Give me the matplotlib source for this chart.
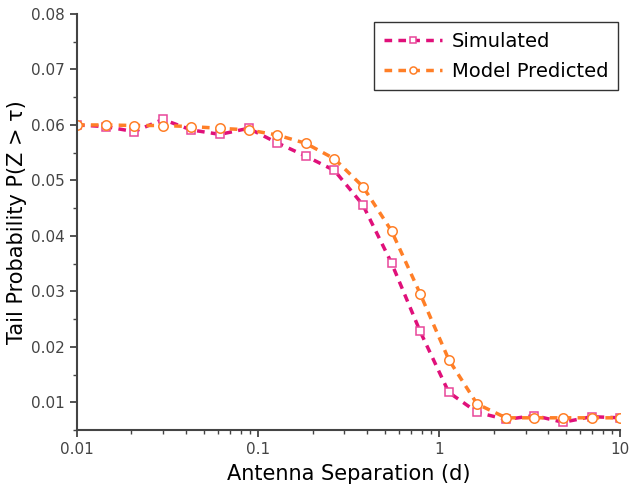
import matplotlib
matplotlib.use("Agg")
import matplotlib.pyplot as plt
from matplotlib.ticker import FixedLocator, LogLocator, MultipleLocator, NullFormatter

separation = [0.01, 0.0144, 0.0207, 0.0298, 0.0428, 0.0616, 0.0886, 0.127, 0.183, 0.264,
              0.379, 0.546, 0.785, 1.13, 1.62, 2.34, 3.36, 4.83, 6.95, 10.0]
simulated = [0.0600, 0.0597, 0.0588, 0.0610, 0.0591, 0.0583, 0.0594, 0.0568, 0.0544, 0.0518,
             0.0456, 0.0351, 0.0228, 0.0118, 0.0082, 0.0069, 0.0076, 0.0064, 0.0074, 0.0072]
predicted = [0.0600, 0.0600, 0.0599, 0.0599, 0.0597, 0.0594, 0.0591, 0.0582, 0.0567, 0.0539,
             0.0489, 0.0409, 0.0296, 0.0177, 0.0097, 0.0072, 0.0072, 0.0072, 0.0072, 0.0072]

plt.rcParams["font.family"] = ["DejaVu Sans"]

fig, ax = plt.subplots(figsize=(6.29, 4.92), dpi=100)
fig.subplots_adjust(left=0.1224, right=0.986, top=0.9715, bottom=0.126)

pink = "#e0107a"
orange = "#ff7f27"
ax.plot(separation, simulated, ls=(0, (2.2, 1.8)), lw=2.5, color=pink,
        marker="s", ms=6, mfc="white", mec="#e8479a", mew=1.1, label="Simulated")
ax.plot(separation, predicted, ls=(0, (2.2, 1.8)), lw=2.5, color=orange,
        marker="o", ms=6.8, mfc="white", mec=orange, mew=1.1, label="Model Predicted")

ax.set_xscale("log")
ax.set_xlim(0.01, 10)
ax.set_ylim(0.005, 0.08)
ax.xaxis.set_major_locator(FixedLocator([0.01, 0.1, 1, 10]))
ax.set_xticklabels(["0.01", "0.1", "1", "10"])
ax.xaxis.set_minor_locator(LogLocator(base=10, subs=range(2, 10)))
ax.xaxis.set_minor_formatter(NullFormatter())
ax.yaxis.set_major_locator(FixedLocator([0.01, 0.02, 0.03, 0.04, 0.05, 0.06, 0.07, 0.08]))
ax.set_yticklabels(["0.01", "0.02", "0.03", "0.04", "0.05", "0.06", "0.07", "0.08"])
ax.yaxis.set_minor_locator(MultipleLocator(0.005))

for s in ["top", "right"]:
    ax.spines[s].set_visible(False)
for s in ["left", "bottom"]:
    ax.spines[s].set_color("#444444")
    ax.spines[s].set_linewidth(1.5)
ax.tick_params(which="major", length=5, width=1.3, color="#444444", labelcolor="#444444", labelsize=11)
ax.tick_params(which="minor", length=3, width=1.0, color="#444444")

ax.set_xlabel("Antenna Separation (d)", fontsize=15, labelpad=5)
ax.set_ylabel("Tail Probability P(Z > τ)", fontsize=15, labelpad=3)

leg = ax.legend(loc="upper right", fontsize=14, frameon=True, fancybox=False,
                edgecolor="black", handlelength=3.0, borderaxespad=0.1,
                markerscale=0.75, handletextpad=0.5, labelspacing=0.55,
                borderpad=0.5, bbox_to_anchor=(1.0, 0.985))
leg.get_frame().set_linewidth(1.0)

fig.savefig("out.png")
